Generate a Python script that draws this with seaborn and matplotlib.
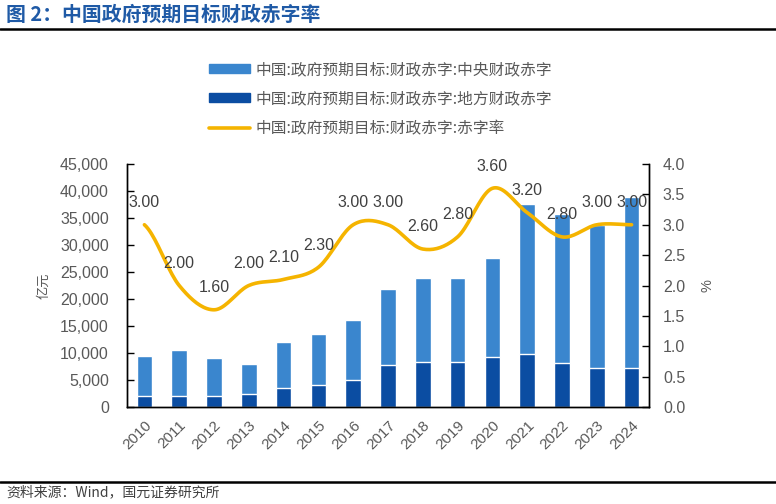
import numpy as np
import pandas as pd
import matplotlib
matplotlib.use("Agg")
import matplotlib.pyplot as plt
from matplotlib.lines import Line2D
from matplotlib.patches import Patch
from matplotlib.ticker import FuncFormatter, MultipleLocator, FixedLocator
import seaborn as sns

# data
years = [str(y) for y in range(2010, 2025)]
central_deficit = [7500, 8500, 7000, 5500, 8500, 9500, 11200, 14000, 15500, 15500,
                   18300, 27800, 27500, 26500, 31600]
local_deficit = [2000, 2000, 2000, 2500, 3500, 4000, 5000, 7800, 8300, 8300,
                 9300, 9800, 8200, 7200, 7200]
deficit_rate = [3.0, 2.0, 1.6, 2.0, 2.1, 2.3, 3.0, 3.0, 2.6, 2.8, 3.6, 3.2, 2.8, 3.0, 3.0]

labels = ["中国:政府预期目标:财政赤字:中央财政赤字",
          "中国:政府预期目标:财政赤字:地方财政赤字",
          "中国:政府预期目标:财政赤字:赤字率"]

LIGHT = "#3A86CE"
DARK = "#0B4DA2"
GOLD = "#F5B400"
GREY = "#595959"

sns.set_theme(style="white")
plt.rcParams["font.family"] = ["Liberation Sans", "Noto Sans CJK SC", "DejaVu Sans"]
CJK = ["Noto Sans CJK SC", "DejaVu Sans"]


def smooth(y, n=20):
    """Catmull-Rom curve through the points, like Excel's smoothed line"""
    y = np.asarray(y, float)
    p = np.concatenate([[y[0]], y, [y[-1]]])
    xs, ys = [], []
    t = np.linspace(0, 1, n, endpoint=False)
    for i in range(len(y) - 1):
        p0, p1, p2, p3 = p[i], p[i + 1], p[i + 2], p[i + 3]
        seg = 0.5 * (2 * p1 + (-p0 + p2) * t + (2 * p0 - 5 * p1 + 4 * p2 - p3) * t ** 2
                     + (-p0 + 3 * p1 - 3 * p2 + p3) * t ** 3)
        xs.extend(i + t)
        ys.extend(seg)
    xs.append(len(y) - 1)
    ys.append(y[-1])
    return np.array(xs), np.array(ys)


df = pd.DataFrame({"year": years, "central": central_deficit, "local": local_deficit})
df["total"] = df["central"] + df["local"]

fig = plt.figure(figsize=(7.76, 5.04), dpi=100)
ax = fig.add_axes([127 / 776, 97 / 504, 522 / 776, 243 / 504])

sns.barplot(data=df, x="year", y="total", color=LIGHT, saturation=1, width=0.45, ax=ax)
sns.barplot(data=df, x="year", y="local", color=DARK, saturation=1, width=0.45, ax=ax)

ax.set_xlim(-0.5, len(years) - 0.5)
ax.set_ylim(0, 45000)
ax.yaxis.set_major_locator(MultipleLocator(5000))
ax.yaxis.set_major_formatter(FuncFormatter(lambda v, p: f"{v:,.0f}"))
ax.tick_params(axis="y", direction="in", length=5, width=1, colors="black",
               labelcolor=GREY, labelsize=11.5, pad=13)
ax.set_xticks(range(len(years)))
ax.set_xticklabels(years, rotation=45, ha="right", va="top", rotation_mode="anchor",
                   fontsize=11, color=GREY)
ax.tick_params(axis="x", which="major", length=0, pad=8)
ax.xaxis.set_minor_locator(FixedLocator(np.arange(0.5, len(years) - 1, 1)))
ax.tick_params(axis="x", which="minor", direction="in", length=5, width=1, color="black")
ax.set_xlabel("")
ax.set_ylabel("亿元", family=CJK, fontsize=9.5, color=GREY)
ax.yaxis.set_label_coords(-0.147, 0.5)

ax2 = ax.twinx()
sx, sy = smooth(deficit_rate)
sns.lineplot(x=sx, y=sy, color=GOLD, lw=2.6, ax=ax2, sort=False)
ax2.set_ylim(0, 4.0)
ax2.yaxis.set_major_locator(MultipleLocator(0.5))
ax2.yaxis.set_major_formatter(FuncFormatter(lambda v, p: f"{v:.1f}"))
ax2.tick_params(axis="y", direction="in", length=5, width=1, colors="black",
                labelcolor=GREY, labelsize=11.5, pad=10)
ax2.set_ylabel("%", fontsize=10.5, color=GREY)
ax2.yaxis.set_label_coords(1.098, 0.5)

for i, v in enumerate(deficit_rate):
    ax2.annotate(f"{v:.2f}", (i, v), xytext=(0, 16), textcoords="offset points",
                 ha="center", va="center", fontsize=11.5, color="#404040")

for a in (ax, ax2):
    a.spines["top"].set_visible(False)
    for side in ("left", "right", "bottom"):
        a.spines[side].set_color("black")
        a.spines[side].set_linewidth(1)

handles = [Patch(facecolor=LIGHT, edgecolor=LIGHT),
           Patch(facecolor=DARK, edgecolor=DARK),
           Line2D([0], [0], color=GOLD, lw=2.6)]
leg = fig.legend(handles, labels, loc="upper left", bbox_to_anchor=(201 / 776, 1 - 53 / 504),
                 frameon=False, prop={"family": CJK, "size": 11.3}, handlelength=2.6,
                 handleheight=0.5, handletextpad=0.35, labelspacing=0.8, borderpad=0)
for t in leg.get_texts():
    t.set_color(GREY)

fig.text(6 / 776, 1 - 14 / 504, "图 2：中国政府预期目标财政赤字率", family=CJK,
         fontsize=14.3, fontweight="bold", color="#1F5AA6", ha="left", va="center")
fig.add_artist(Line2D([0, 1], [1 - 29 / 504] * 2, color="black", lw=1.8))
fig.add_artist(Line2D([0, 1], [1 - 482 / 504] * 2, color="black", lw=1.8))
fig.text(6 / 776, 1 - 492 / 504, "资料来源：Wind，国元证券研究所", family=CJK,
         fontsize=10, color="#404040", ha="left", va="center")

fig.savefig("out.png", dpi=100)
